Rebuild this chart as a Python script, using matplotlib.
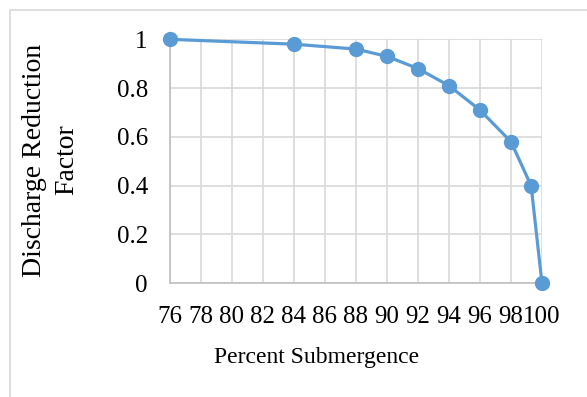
import matplotlib.pyplot as plt
from matplotlib.patches import Rectangle

# data
submergence = [76, 84, 88, 90, 92, 94, 96, 98, 99.3, 100]
reduction = [1.0, 0.98, 0.96, 0.93, 0.88, 0.81, 0.71, 0.58, 0.40, 0.0]
x_ticks = list(range(76, 101, 2))
y_ticks = [0, 0.2, 0.4, 0.6, 0.8, 1]
y_tick_labels = ['0', '0.2', '0.4', '0.6', '0.8', '1']
y_title = ['Discharge Reduction', 'Factor']

plt.rcParams['font.family'] = ['Liberation Serif', 'DejaVu Serif']

fig = plt.figure(figsize=(5.87, 3.97), dpi=100)
fig.patches.append(Rectangle((10 / 587, -0.05), 1.1, 1 - 10 / 397 + 0.05,
                             transform=fig.transFigure, fill=False,
                             edgecolor='#D9D9D9', linewidth=1.2))

ax = fig.add_axes([0.2896, 0.2864, 0.6337, 0.6146])
ax.plot(submergence, reduction, color='#5B9BD5', linewidth=2.3,
        marker='o', markersize=10, clip_on=False, zorder=3)

ax.set_xlim(76, 100)
ax.set_ylim(0, 1)
ax.set_xticks(x_ticks)
ax.set_yticks(y_ticks)
ax.set_yticklabels(y_tick_labels)
ax.grid(True, color='#D9D9D9', linewidth=1.2)
ax.set_axisbelow(True)
ax.tick_params(length=0, labelsize=18, colors='black')
ax.tick_params(axis='x', pad=16)
ax.tick_params(axis='y', pad=16)

for s in ['top', 'right']:
    ax.spines[s].set_visible(False)
for s in ['left', 'bottom']:
    ax.spines[s].set_color('#BFBFBF')
    ax.spines[s].set_linewidth(1.2)

# axis titles placed like the Excel original (x title sits left of plot centre)
fig.text(316.5 / 587, 1 - 363 / 397, 'Percent Submergence', fontsize=17,
         ha='center', va='baseline')
# y title: two rotated lines, baselines at x=41 and x=73 px
for line, xb in zip(y_title, [41, 73]):
    fig.text(xb / 587, 1 - 160 / 397, line, fontsize=20, rotation=90,
             rotation_mode='anchor', ha='center', va='baseline')

fig.savefig('out.png', dpi=100)
